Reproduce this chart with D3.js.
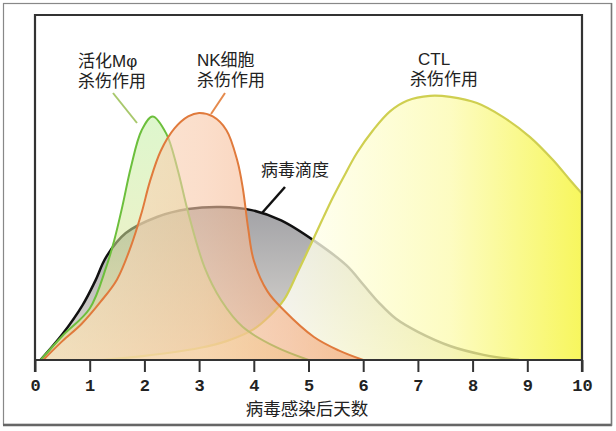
<!DOCTYPE html>
<html><head><meta charset="utf-8">
<script src="https://cdn.jsdelivr.net/npm/d3@7"></script>
<style>
html,body{margin:0;padding:0;background:#fff;}
svg{display:block;}
</style></head>
<body>
<script>
// ---- data ----
const xTicks = [0,1,2,3,4,5,6,7,8,9,10];
const xTitle = "病毒感染后天数";

const macroX = [0.1,0.5,1.0,1.3,1.45,1.6,1.75,1.95,2.15,2.4,2.6,2.8,3.1,3.4,3.8,4.4,5.0];
const macroY = [0,7,15,27,35,45,56,67,71,66,56,43,27,17.5,9.6,3.8,0];

const nkX = [0.15,0.5,0.85,1.2,1.5,1.75,1.95,2.1,2.3,2.55,2.8,3.0,3.25,3.5,3.7,3.8,3.9,4.0,4.25,4.55,5.1,5.55,6.0];
const nkY = [0,5.5,10.5,17,23.5,33,43,52,61,67.5,71,72,71,67,58,50,38,29,20,14.5,6.7,2.8,0];

const virusX = [0.1,0.5,0.87,1.1,1.3,1.66,2.23,2.8,3.39,3.96,4.5,5.1,5.7,6.0,6.3,6.6,7.0,7.6,8.2,8.85];
const virusY = [0,7.5,16,23,30,37,41.7,44,44.6,43.7,40.7,34.8,27.5,22,16.5,12,8.2,4,1.5,0];

const ctlX = [1.2,2.0,3.0,3.5,4.0,4.3,4.55,4.8,5.08,5.27,5.45,5.63,5.89,6.18,6.49,6.8,7.22,7.59,8.08,8.56,9.05,9.47,9.78,10];
const ctlY = [0,1.2,3.5,5.5,9,13,17.5,25.5,35,41.5,47.5,53,60.5,67,72.5,75.6,77,76.7,74.9,70.8,65,58.3,52.5,48.5];

const labels = [
  {lines:["活化Mφ","杀伤作用"], x:[78,78], y:67},
  {lines:["NK细胞","杀伤作用"], x:[197,197], y:66},
  {lines:["CTL","杀伤作用"], x:[418,410], y:65},
  {lines:["病毒滴度"], x:[261], y:176}
];

// ---- drawing ----
const W = 616, H = 431;
const svg = d3.select("body").append("svg").attr("width", W).attr("height", H);
const x = d3.scaleLinear().domain([0,10]).range([35,582]);
const y = d3.scaleLinear().domain([0,100]).range([360,17]);

const defs = svg.append("defs");
function grad(id, x1, y1, x2, y2, stops){
  const g = defs.append("linearGradient").attr("id",id).attr("gradientUnits","userSpaceOnUse")
    .attr("x1",x1).attr("x2",x2).attr("y1",y1).attr("y2",y2);
  stops.forEach(s=>g.append("stop").attr("offset",s[0]).attr("stop-color",s[1]));
}
grad("gVirus", 0, 207, 0, 360, [[0,"#a2a2a6"],[1,"#e0ddd6"]]);
grad("gMacro", 0, 117, 0, 360, [[0,"#c2f0a4"],[0.5,"#d8e89c"],[1,"#f0e090"]]);
grad("gNK", 43, 0, 363, 0, [[0,"#f8e2c8"],[0.5,"#f8c8a8"],[1,"#f29a66"]]);
grad("gCTL", 290, 0, 582, 0, [[0,"#fffff4"],[0.55,"#fcfbb0"],[1,"#f5f430"]]);

defs.append("clipPath").attr("id","plotClip").append("rect")
  .attr("x",x(0)).attr("y",y(100)).attr("width",x(10)-x(0)).attr("height",y(0)-y(100));

// outer border
svg.append("rect").attr("x",3.5).attr("y",3.5).attr("width",608).attr("height",421)
  .attr("fill","none").attr("stroke","#888").attr("stroke-width",1.2);
svg.append("line").attr("x1",3).attr("x2",612).attr("y1",425).attr("y2",425).attr("stroke","#666").attr("stroke-width",2.5);
svg.append("line").attr("x1",611.5).attr("x2",611.5).attr("y1",3).attr("y2",426).attr("stroke","#777").attr("stroke-width",1.5);

function series(xs, ys){ return xs.map((v,i)=>[v, ys[i]]); }
const crv = d3.curveCatmullRom.alpha(0.5);
const area = d3.area().x(d=>x(d[0])).y0(y(0)).y1(d=>y(d[1])).curve(crv);
const line = d3.line().x(d=>x(d[0])).y(d=>y(d[1])).curve(crv);

const g = svg.append("g").attr("clip-path","url(#plotClip)");
// virus
const vData = series(virusX, virusY);
g.append("path").attr("d", area(vData)).attr("fill","url(#gVirus)");
g.append("path").attr("d", line(vData)).attr("fill","none").attr("stroke","#111").attr("stroke-width",2.5);
// CTL
const cData = series(ctlX, ctlY);
g.append("path").attr("d", area(cData)).attr("fill","url(#gCTL)").attr("fill-opacity",0.78);
g.append("path").attr("d", line(cData)).attr("fill","none").attr("stroke","#cfcf50").attr("stroke-width",2.2);
// macrophage
const mData = series(macroX, macroY);
g.append("path").attr("d", area(mData)).attr("fill","url(#gMacro)").attr("fill-opacity",0.55);
g.append("path").attr("d", line(mData)).attr("fill","none").attr("stroke","#6cbf3c").attr("stroke-width",2);
// NK
const nData = series(nkX, nkY);
g.append("path").attr("d", area(nData)).attr("fill","url(#gNK)").attr("fill-opacity",0.6);
g.append("path").attr("d", line(nData)).attr("fill","none").attr("stroke","#e07a3c").attr("stroke-width",2);

// frame
const fr = svg.append("g").attr("stroke","#333").attr("stroke-width",2.2).attr("fill","none");
fr.append("path").attr("d", `M${x(0)},372V${y(100)-2}H${x(10)}V372`);
fr.append("line").attr("x1",x(0)).attr("x2",x(10)).attr("y1",y(0)).attr("y2",y(0));

// axis
const axis = d3.axisBottom(x).tickValues(xTicks).tickSize(12).tickPadding(6).tickFormat(d3.format("d"));
const ax = svg.append("g").attr("transform",`translate(0,${y(0)})`).call(axis);
ax.select(".domain").remove();
ax.selectAll(".tick line").attr("stroke","#333").attr("stroke-width",2);
ax.selectAll(".tick text").attr("fill","#222").attr("font-family","'Liberation Mono', 'DejaVu Sans Mono', monospace")
  .attr("font-weight","bold").attr("font-size",17).attr("dy","0.75em");

const lblFont = "'Liberation Sans', 'Noto Sans CJK SC', sans-serif";
svg.append("text").attr("x",307).attr("y",415).attr("text-anchor","middle")
  .attr("font-family",lblFont).attr("font-size",17.5).attr("fill","#222").text(xTitle);

// leader lines
svg.append("line").attr("x1",113).attr("y1",93).attr("x2",137).attr("y2",123).attr("stroke","#a8c86c").attr("stroke-width",2);
svg.append("line").attr("x1",225).attr("y1",93).attr("x2",211).attr("y2",114).attr("stroke","#e58a4c").attr("stroke-width",2);
svg.append("line").attr("x1",285).attr("y1",187).attr("x2",262).attr("y2",213).attr("stroke","#111").attr("stroke-width",2.5);

// labels
labels.forEach(l=>{
  l.lines.forEach((t,i)=>{
    svg.append("text").attr("x",l.x[i]).attr("y",l.y + i*20)
      .attr("font-family",lblFont).attr("font-size",17).attr("fill","#222").text(t);
  });
});
</script>
</body></html>
